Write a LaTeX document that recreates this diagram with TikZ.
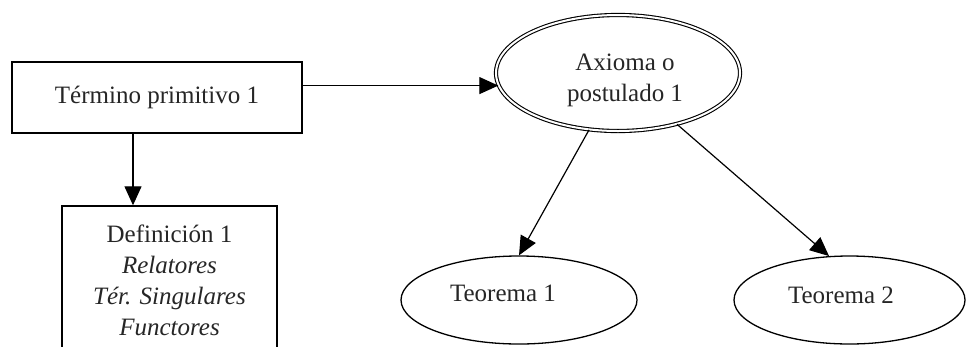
\documentclass[tikz,border=0pt]{standalone}
\usepackage{fontspec}
\setmainfont{Liberation Serif}
\usetikzlibrary{arrows.meta,shapes.geometric}
\begin{document}
\begin{tikzpicture}[x=1pt,y=-1pt,
  every node/.style={font=\fontsize{25}{31}\selectfont, text=black!85},
  boxnode/.style={draw=black, line width=1.4pt, rectangle, inner sep=0pt, align=center},
  axnode/.style={draw=black, ellipse, double=white, double distance=2pt, line width=1.1pt,
                 inner sep=0pt},
  theonode/.style={draw=black, ellipse, line width=1.3pt, inner sep=0pt},
  arr/.style={draw=black, line width=1.2pt, -{Triangle[length=19pt,width=17pt]}}
]
\useasboundingbox (0,0) rectangle (968,346);
\clip (0,0) rectangle (968,346);
\fill[white] (0,0) rectangle (968,346);

% boxes
\node[boxnode, minimum width=290pt, minimum height=71pt] (tp) at (157,97.5) {Término primitivo 1};
\node[boxnode, minimum width=215pt, minimum height=148pt] (def) at (169.5,280)
  {Definición 1\\\textit{Relatores}\\\textit{Tér. Singulares}\\\textit{Functores}};

% axiom (double border) and its text
\node[axnode, minimum width=244pt, minimum height=116pt] (ax) at (618,73) {};
\node[align=center] (axl) at (625,80) {Axioma o\\postulado 1};

% theorems
\node[theonode, minimum width=236pt, minimum height=88pt] (t1) at (519,300) {};
\node (t1l) at (503,293) {Teorema 1};
\node[theonode, minimum width=231pt, minimum height=88pt] (t2) at (849.5,300) {};
\node (t2l) at (841,295) {Teorema 2};

% connectors
\coordinate (vx) at (133,0);
\draw[arr] (tp.east |- ax.186.7) -- (ax.186.7);
\draw[arr] (tp.south -| vx) -- (def.north -| vx);
\draw[arr] (ax.243) -- (t1.north);
\draw[arr] (ax.-41) -- (t2.115);
\end{tikzpicture}
\end{document}
